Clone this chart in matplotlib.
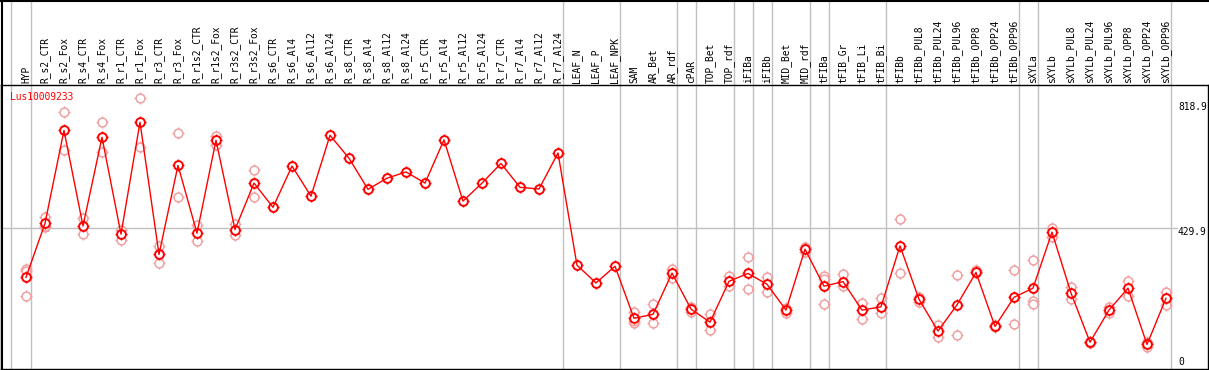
import matplotlib
matplotlib.use('Agg')
import matplotlib.pyplot as plt
from matplotlib.lines import Line2D

# Data

categories = ['HYP', 'R_s2_CTR', 'R_s2_Fox', 'R_s4_CTR', 'R_s4_Fox', 'R_r1_CTR', 'R_r1_Fox',
              'R_r3_CTR', 'R_r3_Fox', 'R_r1s2_CTR', 'R_r1s2_Fox', 'R_r3s2_CTR', 'R_r3s2_Fox',
              'R_s6_CTR', 'R_s6_Al4', 'R_s6_Al12', 'R_s6_Al24', 'R_s8_CTR', 'R_s8_Al4',
              'R_s8_Al12', 'R_s8_Al24', 'R_r5_CTR', 'R_r5_Al4', 'R_r5_Al12', 'R_r5_Al24',
              'R_r7_CTR', 'R_r7_Al4', 'R_r7_Al12', 'R_r7_Al24', 'LEAF_N', 'LEAF_P', 'LEAF_NPK',
              'SAM', 'AR_Bet', 'AR_rdf', 'cPAR', 'TOP_Bet', 'TOP_rdf', 'iFIBa', 'iFIBb',
              'MID_Bet', 'MID_rdf', 'tFIBa', 'tFIB_Gr', 'tFIB_Li', 'tFIB_Bi', 'tFIBb',
              'tFIBb_PUL8', 'tFIBb_PUL24', 'tFIBb_PUL96', 'tFIBb_OPP8', 'tFIBb_OPP24',
              'tFIBb_OPP96', 'sXYLa', 'sXYLb', 'sXYLb_PUL8', 'sXYLb_PUL24', 'sXYLb_PUL96',
              'sXYLb_OPP8', 'sXYLb_OPP24', 'sXYLb_OPP96']

means = [280, 445, 729, 437, 708, 412, 754, 350, 622, 415, 699, 426, 568,
         494, 620, 528, 714, 644, 549, 583, 602, 568, 700, 513, 568,
         628, 555, 550, 660, 317, 263, 314,
         155, 167, 293, 183, 143, 268, 292, 259,
         180, 366, 253, 267, 180, 190, 376,
         213, 116, 196, 295, 130, 219,
         247, 418, 232, 82, 180, 247, 75, 216]

replicates = [[305, 298, 222], [463, 433, 437], [784, 670], [461, 412], [754, 662],
              [425, 395], [827, 677], [376, 323], [721, 526], [440, 390], [713, 684],
              [443, 410], [607, 526],
              [], [], [], [], [], [], [], [], [], [], [], [], [], [], [], [], [], [], [],
              [174, 141, 146], [199, 140], [306, 277], [190, 175], [167, 118], [284, 255],
              [342, 244], [281, 236], [185, 172], [373, 358], [285, 275, 199], [290, 255],
              [201, 152], [216, 170], [457, 292],
              [221, 204], [134, 99], [286, 103], [302, 292], [133, 127], [302, 137],
              [332, 208, 199], [431, 404], [251, 213], [84, 80], [189, 172], [269, 222],
              [82, 67], [235, 196]]

# index of the last sample in each group (gray separators)
group_ends = [0, 28, 31, 34, 35, 37, 38, 39, 41, 42, 45, 52, 53, 60]

gene = 'Lus10009233'
ytick_values = [818.9, 429.9, 0]

fig = plt.figure(figsize=(12.09, 3.70), dpi=100)
W, H = 1209, 370
ax = fig.add_axes([1 / W, 1 / H, 1207 / W, 284 / H])

x = list(range(len(categories)))
px = 19.0
x0 = 26.0
ax.set_xlim((1 - x0) / px, (1208 - x0) / px)
ax.set_ylim(0, 867.7)

red = '#ff0000'
pink = '#f0a0a0'

# separators, running up through the label area
for g in group_ends:
    ax.axvline(g + 0.24, ymin=0, ymax=369 / 284, color='#c0c0c0', lw=1, clip_on=False, zorder=0)
ax.axvline(-0.8, ymin=0, ymax=369 / 284, color='#c0c0c0', lw=1, clip_on=False, zorder=0)
ax.plot([ax.get_xlim()[0], (1177 - x0) / px], [429.9, 429.9], color='#c0c0c0', lw=1, zorder=0)

# replicates
rx = []
ry = []
for i in range(len(categories)):
    for v in replicates[i]:
        rx.append(i)
        ry.append(v)
ax.scatter(rx, ry, marker='+', s=65, color=pink, linewidths=1, zorder=1)
ax.scatter(rx, ry, marker='o', s=40, facecolor='white', edgecolor=pink, linewidths=1.1, zorder=2)

# means
ax.scatter(x, means, marker='+', s=65, color=red, linewidths=1, zorder=3)
ax.scatter(x, means, marker='o', s=40, facecolor='white', edgecolor=red, linewidths=1.4, zorder=4)
ax.plot(x, means, color=red, lw=1, zorder=5)

for s in ax.spines.values():
    s.set_color('black')
    s.set_linewidth(1)
ax.set_xticks([])
ax.set_yticks([])

mono = 'DejaVu Sans Mono'
for i, c in enumerate(categories):
    ax.annotate(c, xy=(i, 867.7), xytext=(0, 2), textcoords='offset pixels',
                rotation=90, ha='center', va='bottom', fontsize=6.9, family=mono,
                annotation_clip=False)

offsets = [-6, -4, 7]
for v, off in zip(ytick_values, offsets):
    ax.annotate(str(v) if v else '0', xy=((1178 - x0) / px, v), xytext=(0, off),
                textcoords='offset pixels', ha='left', va='center', fontsize=6.9,
                family=mono, annotation_clip=False)

ax.text((10 - x0) / px, (369 - 97) / 0.3273, gene, color=red, ha='left', va='center',
        fontsize=6.9, family=mono)

# outer frame
fig.add_artist(Line2D([0, 1], [1 - 0.5 / H, 1 - 0.5 / H], color='black', lw=1.5))
fig.add_artist(Line2D([1.5 / W, 1.5 / W], [0, 1], color='black', lw=1.5))

fig.savefig('out.png', dpi=100)
